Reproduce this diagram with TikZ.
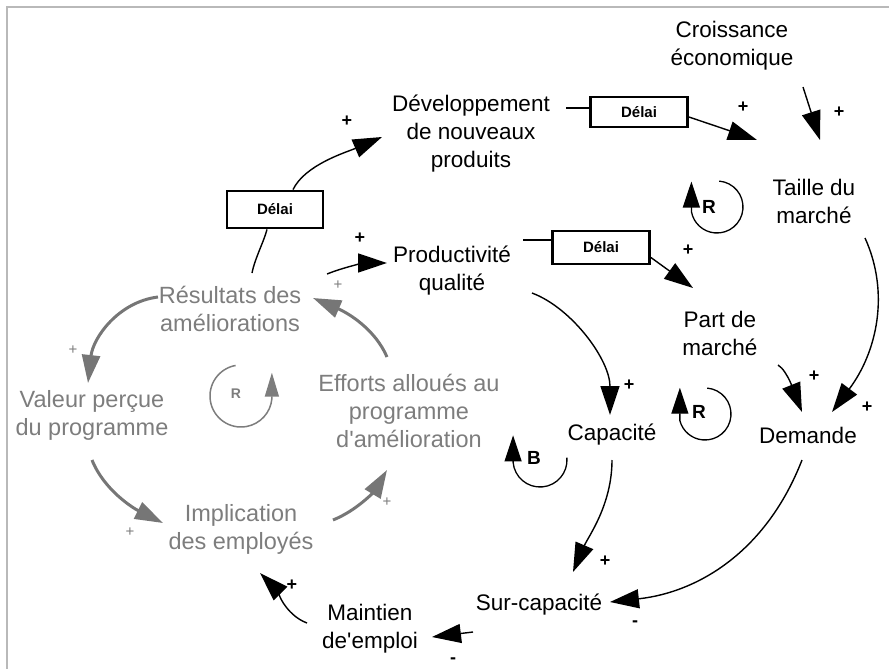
\documentclass[tikz,border=0pt]{standalone}
\usepackage{fontspec}
\setmainfont{Liberation Sans}[Ligatures=TeXOff]
\usetikzlibrary{arrows.meta}
\definecolor{gtext}{RGB}{125,125,125}
\definecolor{garr}{RGB}{118,118,118}
\definecolor{framec}{RGB}{185,185,185}
\begin{document}
\begin{tikzpicture}[x=1pt,y=-1pt,
  bt/.style={align=center, inner sep=0pt, font=\fontsize{22.5}{28}\selectfont, text=black},
  gt/.style={align=center, inner sep=0pt, font=\fontsize{23.5}{28}\selectfont, text=gtext},
  delbox/.style={draw=black, line width=2.8pt, fill=white, minimum width=97pt, inner sep=0pt, font=\fontsize{15}{15}\selectfont\bfseries},
  barr/.style={draw=black, line width=1.4pt, -{Triangle[length=29pt,width=19pt]}},
  bline/.style={draw=black, line width=1.4pt},
  garrow/.style={draw=garr, line width=3pt, -{Triangle[length=28pt,width=18pt]}},
  pl/.style={font=\fontsize{18}{18}\selectfont\bfseries, inner sep=0pt},
  gpl/.style={font=\fontsize{15}{15}\selectfont, text=gtext, inner sep=0pt},
  loopl/.style={font=\fontsize{19}{19}\selectfont\bfseries, inner sep=0pt},
  gloopl/.style={font=\fontsize{14}{14}\selectfont\bfseries, text=gtext, inner sep=0pt},
  looparc/.style={draw=black, line width=1.3pt, -{Triangle[length=26pt,width=17pt]}},
  glooparc/.style={draw=gtext, line width=1.5pt, -{Triangle[length=24pt,width=14pt]}},
]
\useasboundingbox (0,0) rectangle (889,669);
\draw[framec, line width=2pt] (7,669) -- (7,7) -- (889,7);

% black nodes
\node[bt] (cro) at (732,46) {Croissance\\économique};
\node[bt] (dev) at (471,134) {Développement\\de nouveaux\\produits};
\node[bt] (tai) at (814,201) {Taille du\\marché};
\node[bt] (pro) at (452,271) {Productivité\\qualité};
\node[bt] (par) at (720,333) {Part de\\marché};
\node[bt] (cap) at (612,435) {Capacité};
\node[bt] (dem) at (808,435) {Demande};
\node[bt] (sur) at (539,605) {Sur-capacité};
\node[bt] (mai) at (370,629) {Maintien\\de'emploi};

% grey nodes
\node[gt] (res) at (230,309) {Résultats des\\améliorations};
\node[gt] (val) at (92,415) {Valeur perçue\\du programme};
\node[gt] (eff) at (409,411) {Efforts alloués au\\programme\\d'amélioration};
\node[gt] (imp) at (241,529) {Implication\\des employés};

% delay boxes
\node[delbox, minimum height=30pt] (del1) at (639,112) {Délai};
\node[delbox, minimum height=33pt] (del2) at (601,247.5) {Délai};
\node[delbox, minimum width=96pt, minimum height=37pt] (del3) at (275,209.5) {Délai};

% black connectors
\draw[bline] ([shift={(22,-36)}]res.center) .. controls +(3,-15) and +(-3,12) .. ([shift={(-8,0)}]del3.south);
\draw[barr] ([shift={(18,0)}]del3.north) .. controls +(12,-25) and +(-35,15) .. ([shift={(-89,3)}]dev.center);
\draw[bline] ([shift={(95,-26)}]dev.center) -- ([shift={(0,-4)}]del1.west);
\draw[barr] ([shift={(0,5)}]del1.east) -- ([shift={(-57,-61)}]tai.center);
\draw[barr] ([shift={(71,41)}]cro.center) -- ([shift={(6,-61)}]tai.center);
\draw[bline] ([shift={(71,-31)}]pro.center) -- ([shift={(0,-7.5)}]del2.west);
\draw[barr] ([shift={(0,10)}]del2.east) -- ([shift={(-27,-45)}]par.center);
\draw[barr] ([shift={(97,-35)}]res.center) .. controls +(20,-8) and +(-20,0) .. ([shift={(-65,-8)}]pro.center);
\draw[barr] ([shift={(80,22)}]pro.center) .. controls +(40,15) and +(0,-55) .. ([shift={(-2,-20)}]cap.center);
\draw[barr] ([shift={(58,32)}]par.center) .. controls +(10,6) and +(-6,-15) .. ([shift={(-6,-23)}]dem.center);
\draw[barr] ([shift={(51,37)}]tai.center) .. controls +(25,55) and +(45,-60) .. ([shift={(24,-23)}]dem.center);
\draw[barr] ([shift={(0,25)}]cap.center) .. controls +(0,45) and +(15,-35) .. ([shift={(34,-33)}]sur.center);
\draw[barr] ([shift={(-6,25)}]dem.center) .. controls +(-35,90) and +(90,-10) .. ([shift={(71,-3)}]sur.center);
\draw[barr] ([shift={(-66,27)}]sur.center) -- ([shift={(62,8)}]mai.center);
\draw[barr] ([shift={(-63,-6)}]mai.center) .. controls +(-22,-8) and +(15,15) .. ([shift={(19,44)}]imp.center);

% grey connectors
\draw[garrow] ([shift={(-22,-54)}]eff.center) .. controls +(-12,-28) and +(35,15) .. ([shift={(83,-11)}]res.center);
\draw[garrow] ([shift={(-72,-12)}]res.center) .. controls +(-40,5) and +(5,-45) .. ([shift={(-4,-32)}]val.center);
\draw[garrow] ([shift={(0,45)}]val.center) .. controls +(12,30) and +(-30,-15) .. ([shift={(-78,-6)}]imp.center);
\draw[garrow] ([shift={(92,-9)}]imp.center) .. controls +(25,-10) and +(-12,20) .. ([shift={(-22,59)}]eff.center);

% polarity signs
\node[pl] (p1) at (347,121) {+};
\node[pl] (p2) at (743,107) {+};
\node[pl] (p3) at (839,112) {+};
\node[pl] (p4) at (360,238) {+};
\node[pl] (p5) at (688,250) {+};
\node[pl] (p6) at (629,385) {+};
\node[pl] (p7) at (814,376) {+};
\node[pl] (p8) at (867,407) {+};
\node[pl] (p9) at (605,561) {+};
\node[pl] (p10) at (635,624) {-};
\node[pl] (p11) at (453,661) {-};
\node[pl] (p12) at (292,585) {+};
\node[gpl] (g1) at (338,285) {+};
\node[gpl] (g2) at (73,350) {+};
\node[gpl] (g3) at (130,532) {+};
\node[gpl] (g4) at (387,502) {+};

% loop markers
\coordinate (L1) at (717,207);
\draw[looparc] ([shift={(-85:26)}]L1) arc[start angle=-85, end angle=170, radius=26] -- ++(0,-30);
\node[loopl] (r1) at (709,207) {R};
\coordinate (L2) at (705,414);
\draw[looparc] ([shift={(-85:26)}]L2) arc[start angle=-85, end angle=165, radius=26] -- ++(0,-33);
\node[loopl] (r2) at (699,412) {R};
\coordinate (L3) at (540,460);
\draw[looparc] ([shift={(-5:27)}]L3) arc[start angle=-5, end angle=175, radius=27] -- ++(0,-27);
\node[loopl] (b1) at (534,458) {B};
\coordinate (L4) at (241,396);
\draw[glooparc] ([shift={(-100:31)}]L4) arc[start angle=-100, end angle=-355, radius=31] -- ++(0,-26);
\node[gloopl] (r4) at (236,394) {R};
\end{tikzpicture}
\end{document}
